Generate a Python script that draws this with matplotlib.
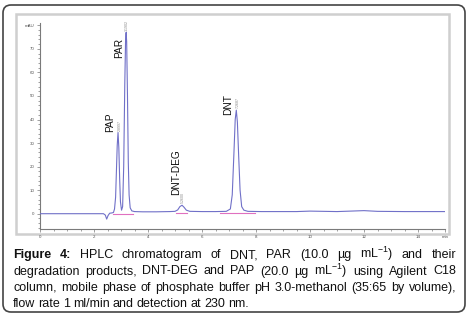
"""HPLC chromatogram figure (DNT, PAR and degradation products) with journal-style caption."""

import matplotlib
matplotlib.use("Agg")
import matplotlib.pyplot as plt
from matplotlib.patches import FancyBboxPatch, Rectangle
from matplotlib.ticker import MultipleLocator

# trace (time in min, signal in mAU)
time_min = [0.0, 1.0, 2.0, 2.35, 2.42, 2.47, 2.52, 2.58, 2.65, 2.72,
            2.76, 2.80, 2.83, 2.86, 2.89, 2.92, 2.95, 2.98, 3.02,
            3.06, 3.10, 3.14, 3.17, 3.19, 3.21, 3.24, 3.27, 3.30, 3.34,
            3.40, 3.50, 3.8, 4.3, 4.8, 5.0, 5.10, 5.18, 5.26, 5.33,
            5.42, 5.55, 6.0, 6.5, 6.9, 7.05, 7.12, 7.18, 7.23, 7.27,
            7.31, 7.36, 7.41, 7.47, 7.55, 7.7, 8.2, 9.0, 9.5, 10.0,
            11.0, 12.0, 12.5, 13.5, 15.0]
signal_mau = [0.0, 0.0, 0.0, 0.0, -0.6, -2.3, -0.8, 0.2, 0.3, 0.5,
              2.0, 7.0, 18.0, 29.0, 34.5, 28.0, 15.0, 5.0, 1.5,
              3.0, 20.0, 55.0, 74.0, 77.0, 73.0, 50.0, 22.0, 8.0, 2.5,
              1.2, 0.9, 0.8, 0.8, 0.9, 1.0, 1.6, 3.0, 3.6, 2.8,
              1.5, 1.0, 0.9, 0.9, 1.0, 2.0, 8.0, 25.0, 40.0, 44.0,
              39.0, 24.0, 10.0, 3.0, 1.5, 1.0, 0.9, 0.9, 0.9, 1.1,
              0.9, 1.3, 1.0, 0.9, 0.9]

# integration baselines (start, end, level)
base_start = [2.72, 5.05, 6.67]
base_end = [3.45, 5.45, 7.96]
base_level = [-0.3, 0.3, 0.2]

# peak annotations
peak_names = ["PAP", "PAR", "DNT-DEG", "DNT"]
peak_rt = [2.8997, 3.1902, 5.2600, 7.2687]
peak_top = [34.5, 77.0, 3.6, 44.0]
name_x = [2.59, 2.93, 5.05, 6.96]
name_y = [34.7, 66.0, 8.0, 42.0]

x_ticks = [0, 2, 4, 6, 8, 10, 12, 14, 15]
x_labels = ["0", "2", "4", "6", "8", "10", "12", "14", "min"]
y_ticks = [0, 10, 20, 30, 40, 50, 60, 70, 80]
y_labels = ["0", "10", "20", "30", "40", "50", "60", "70", "mAU"]

SUP = r"mL$^{\mathregular{-1}}$)"
caption_lines = [
    "HPLC chromatogram of DNT, PAR (10.0 µg " + SUP + " and their",
    "degradation products, DNT-DEG and PAP (20.0 µg " + SUP + " using Agilent C18",
    "column, mobile phase of phosphate buffer pH 3.0-methanol (35:65 by volume),",
    "flow rate 1 ml/min and detection at 230 nm.",
]

FONT = ["Liberation Sans", "DejaVu Sans"]
TRACE = "#7070c8"
PINK = "#e070c0"
GREY = "#7a7a7a"

plt.rcParams["mathtext.fontset"] = "custom"
plt.rcParams["mathtext.rm"] = "Liberation Sans"
plt.rcParams["mathtext.it"] = "Liberation Sans:italic"
plt.rcParams["mathtext.bf"] = "Liberation Sans:bold"


def draw_caption(bg, fig):
    """Justified caption, bold 'Figure 4:' lead-in."""
    renderer = fig.canvas.get_renderer()
    x0, x1 = 13, 456
    ys = [258, 274.5, 291, 307]
    fs = 9.0
    for i, line in enumerate(caption_lines):
        words = line.split(" ")
        bold = [False] * len(words)
        if i == 0:
            words = ["Figure", "4:"] + words
            bold = [True, True] + bold
        texts = []
        for w, b in zip(words, bold):
            t = bg.text(0, ys[i], w, fontsize=fs, family=FONT, va="baseline", ha="left",
                        fontweight="bold" if b else "normal", color="#111111")
            texts.append(t)
        widths = [t.get_window_extent(renderer).width for t in texts]
        if i < len(caption_lines) - 1:
            gap = (x1 - x0 - sum(widths)) / (len(words) - 1)
        else:
            gap = 3.0
        x = x0
        for t, w in zip(texts, widths):
            t.set_x(x)
            x += w + gap


def main():
    fig = plt.figure(figsize=(4.75, 3.2), dpi=100)

    # pixel-space background layer for the boxes and caption
    bg = fig.add_axes([0, 0, 1, 1], zorder=0)
    bg.set_xlim(0, 475)
    bg.set_ylim(320, 0)
    bg.axis("off")
    bg.add_patch(FancyBboxPatch((3, 5), 462, 307, boxstyle="round,pad=0,rounding_size=8",
                                facecolor="white", edgecolor="#444444", linewidth=1.2))
    bg.add_patch(Rectangle((16, 14), 433, 220, facecolor="white",
                           edgecolor="#cfcfcf", linewidth=1.8))

    ax = fig.add_axes([40 / 475, 1 - 229 / 320, 405 / 475, 206 / 320], zorder=1)
    ax.patch.set_alpha(0)
    ax.plot(time_min, signal_mau, color=TRACE, linewidth=0.8, zorder=3)
    for s, e, lv in zip(base_start, base_end, base_level):
        ax.plot([s, e], [lv, lv], color=PINK, linewidth=0.8, zorder=2)

    for nm, nx, ny in zip(peak_names, name_x, name_y):
        ax.text(nx, ny, nm, rotation=90, ha="center", va="bottom",
                fontsize=7.3, family=FONT, color="#111111")
    for rt, top in zip(peak_rt, peak_top):
        ax.text(rt + 0.04, top + 0.8, f"{rt:.4f}", rotation=90, ha="center", va="bottom",
                fontsize=2.6, family=FONT, color="#888888")

    ax.set_xlim(0, 15)
    ax.set_ylim(-6.5, 81)
    ax.set_xticks(x_ticks)
    ax.set_xticklabels(x_labels)
    ax.set_yticks(y_ticks)
    ax.set_yticklabels(y_labels)
    ax.xaxis.set_minor_locator(MultipleLocator(0.5))
    ax.yaxis.set_minor_locator(MultipleLocator(2))
    ax.tick_params(which="both", colors=GREY, labelsize=3.2, width=0.5, direction="out")
    ax.tick_params(which="major", length=2.5, pad=1.5)
    ax.tick_params(which="minor", length=1.5)
    for lbl in ax.get_xticklabels() + ax.get_yticklabels():
        lbl.set_family(FONT)
        lbl.set_color("#555555")
    for side in ("top", "right"):
        ax.spines[side].set_visible(False)
    for side in ("left", "bottom"):
        ax.spines[side].set_color(GREY)
        ax.spines[side].set_linewidth(0.8)

    draw_caption(bg, fig)
    fig.savefig("out.png", dpi=100)


if __name__ == "__main__":
    main()
